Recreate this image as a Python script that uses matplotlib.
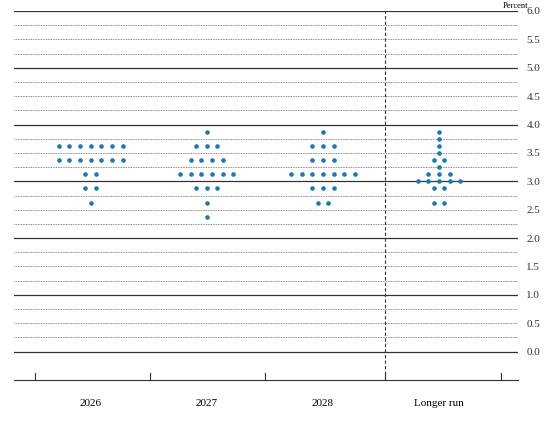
import matplotlib
matplotlib.use("Agg")
import matplotlib.pyplot as plt
from collections import Counter

categories = ["2026", "2027", "2028", "Longer run"]
rates = [
    [3.625]*7 + [3.375]*7 + [3.125]*2 + [2.875]*2 + [2.625],
    [3.875] + [3.625]*3 + [3.375]*4 + [3.125]*6 + [2.875]*3 + [2.625] + [2.375],
    [3.875] + [3.625]*3 + [3.375]*3 + [3.125]*7 + [2.875]*3 + [2.625]*2,
    [3.875, 3.75, 3.625, 3.5] + [3.375]*2 + [3.25] + [3.125]*3 + [3.0]*5 + [2.875]*2 + [2.625]*2,
]
yticks = [0.0, 0.5, 1.0, 1.5, 2.0, 2.5, 3.0, 3.5, 4.0, 4.5, 5.0, 5.5, 6.0]

fig = plt.figure(figsize=(5.5, 4.28), dpi=100)
ax = fig.add_axes([14/550, 1-380/428, (518-14)/550, (380-11)/428])
ax.set_xlim(-0.66, 3.68)
ax.set_ylim(-0.5, 6.0)

for k in range(0, 25):
    y = k*0.25
    if k % 4 == 0:
        ax.axhline(y, color="#333333", lw=0.9, zorder=1)
    else:
        ax.axhline(y, color="#666666", lw=0.6, ls=(0, (1, 1)), zorder=1)

sp = 0.092
for i, vals in enumerate(rates):
    c = Counter(vals)
    xs, ys = [], []
    for v, n in c.items():
        for j in range(n):
            xs.append(i + (j - (n-1)/2)*sp)
            ys.append(v)
    ax.scatter(xs, ys, s=11, color="#1f77b4", zorder=3, linewidths=0)

ax.axvline(2.535, color="#333333", lw=0.8, ls=(0, (3, 2)), zorder=2)

for s in ["top", "right", "left"]:
    ax.spines[s].set_visible(False)
ax.spines["bottom"].set_color("#333333")
ax.set_xticks([0, 1, 2, 3])
ax.set_xticklabels(categories, fontfamily="Liberation Serif", fontsize=8)
ax.tick_params(axis="x", length=0, pad=14)
for x in [-0.48, 0.51, 1.5, 2.535, 3.53]:
    ax.plot([x, x], [-0.5, -0.38], color="#333333", lw=0.8, clip_on=False)
ax.yaxis.tick_right()
ax.set_yticks(yticks)
ax.set_yticklabels([f"{v:.1f}" for v in yticks], fontfamily="Liberation Serif", fontsize=8, color="#333333")
ax.tick_params(axis="y", length=0, pad=6)
ax.text(0.995, 6.02, "Percent", transform=ax.get_yaxis_transform(), ha="center", va="bottom",
        fontfamily="Liberation Serif", fontsize=6)
fig.savefig("out.png", dpi=100)
